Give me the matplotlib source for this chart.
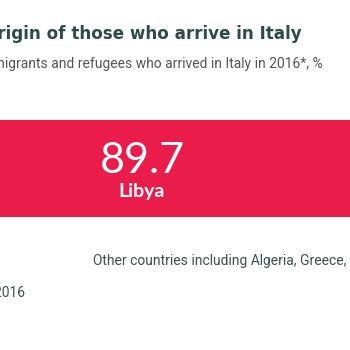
import matplotlib
matplotlib.use("Agg")
import matplotlib.pyplot as plt

countries = ["Libya", "Egypt", "Other countries including Algeria, Greece, Turkey"]
values = [89.7, 7.4, 2.9]
title = "Origin of those who arrive in Italy"
subtitle = "Country of origin of migrants and refugees who arrived in Italy in 2016*, %"
footnote = "* January \u2013 December 2016"

RED = "#ea1d4a"
DARK = "#2f4a4b"
GREY = "#3f4f50"

W = H = 350
fig = plt.figure(figsize=(3.5, 3.5), dpi=100)
fig.patch.set_facecolor("white")
ax = fig.add_axes([0, 0, 1, 1])
ax.set_axis_off()

# scale: 7.625 px per percentage unit; Libya centre at x=142 px
ppu = 7.625
xmin = values[0] / 2 - 142 / ppu
ax.set_xlim(xmin, xmin + W / ppu)
# bar from y=120 to 217 px (from top)
bh = 97.0
ax.set_ylim(-0.5 - (H - 217) / bh, 0.5 + 120 / bh)

left = 0
cols = [RED, "#f37d94", "#f9c2ce"]
for v, c in zip(values, cols):
    ax.barh(0, v, left=left, height=1.0, color=c, edgecolor="none")
    left += v

ax.text(values[0] / 2, 0.08, f"{values[0]:.1f}", ha="center", va="center",
        color="white", fontsize=31, family="Lato", fontweight="normal")
ax.text(values[0] / 2, -0.24, countries[0], ha="center", va="center",
        color="white", fontsize=14, family="Lato", fontweight="bold")

def fx(px):
    return px / W

def fy(py):
    return 1 - py / H

fig.text(fx(302), fy(39), title, ha="right", va="baseline", color=DARK,
         fontsize=12.1, family="DejaVu Sans", fontweight="bold")
fig.text(fx(323), fy(68), subtitle, ha="right", va="baseline", color="#555555",
         fontsize=10, family="Roboto")
fig.text(fx(93), fy(265), countries[2], ha="left", va="baseline", color=GREY,
         fontsize=10, family="Roboto")
fig.text(fx(25), fy(297), footnote, ha="right", va="baseline", color=GREY,
         fontsize=10, family="Roboto")

fig.savefig("out.png", dpi=100, facecolor="white")
